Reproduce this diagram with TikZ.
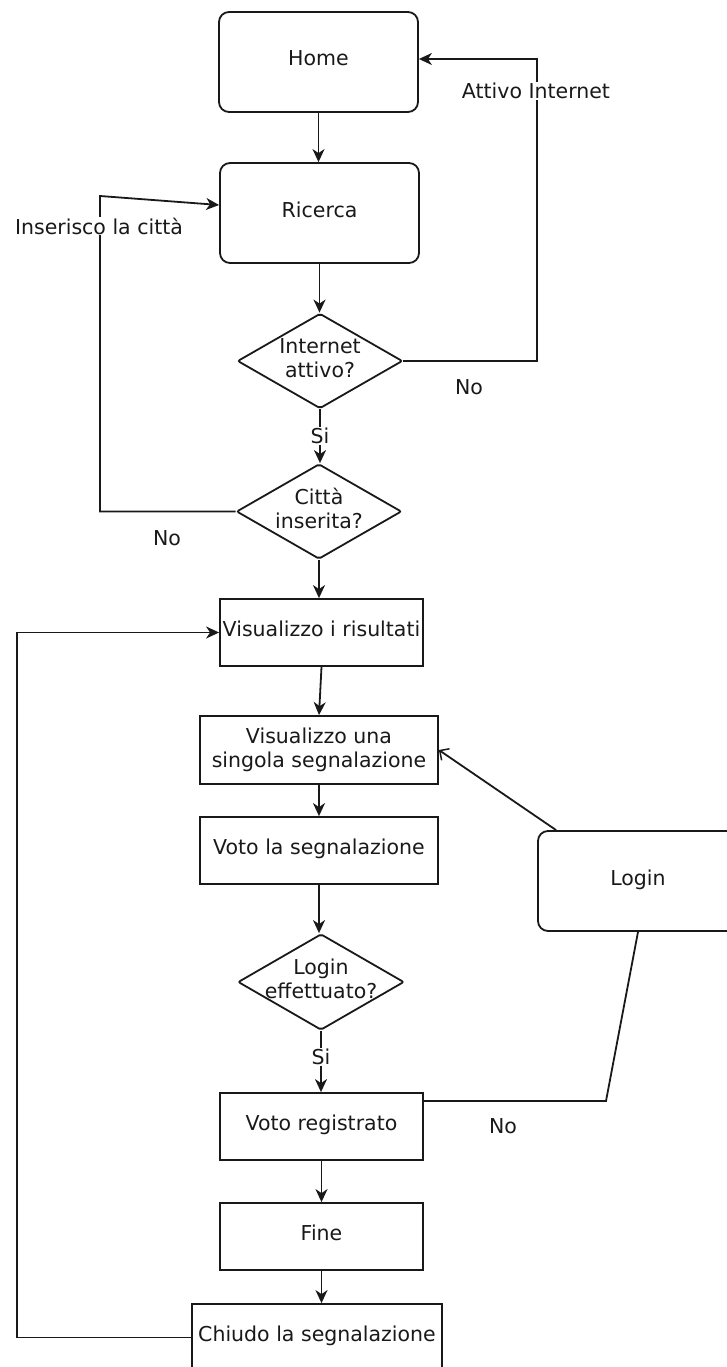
\documentclass[tikz,border=0pt]{standalone}
\usepackage{fontspec}
\setmainfont{DejaVu Sans}
\usetikzlibrary{shapes.geometric,arrows.meta,calc}

\tikzset{
  base/.style={draw=black!90, line width=1.8pt, inner sep=0pt, align=center,
    text=black!90, font=\fontsize{20.5}{24.5}\selectfont},
  oneline/.style={text height=15pt, text depth=7pt},
  roundbox/.style={base, oneline, rectangle, rounded corners=10pt, minimum width=199pt, minimum height=100pt},
  plainbox/.style={base, oneline, rectangle, minimum width=203pt, minimum height=67pt},
  widebox/.style={base, rectangle, minimum width=238pt, minimum height=68pt},
  decision/.style={base, diamond, rounded corners=2pt, minimum width=165pt, minimum height=95pt},
  flow/.style={line width=1.8pt, draw=black!90, -{Stealth[length=13pt,width=12pt,inset=4pt]}},
  plainline/.style={line width=1.8pt, draw=black!90},
  openflow/.style={line width=1.8pt, draw=black!90, -{Straight Barb[length=7pt,width=14pt,line width=1.5pt]}},
  tag/.style={fill=white, inner sep=1pt, text=black!90, font=\fontsize{20.5}{24.5}\selectfont},
  note/.style={inner sep=0pt, text=black!90, font=\fontsize{20.5}{24.5}\selectfont},
}

\begin{document}
\begin{tikzpicture}[x=1pt, y=-1pt]
  \useasboundingbox (0,0) rectangle (727,1367);
  \clip (0,0) rectangle (727,1367);

  % main column
  \node[roundbox] (home) at (318.5,62) {Home};
  \node[roundbox] (ricerca) at (319.5,213) {Ricerca};
  \node[decision, label={[note, align=center, yshift=3pt]center:Internet\\attivo?}] (internet) at (320,361) {};
  \node[decision, label={[note, align=center, yshift=3pt]center:Città\\inserita?}] (citta) at (319,511.5) {};
  \node[plainbox] (risultati) at (321.5,632.5) {Visualizzo i risultati};
  \node[widebox] (singola) at (319,750) {Visualizzo una\\singola segnalazione};
  \node[widebox, oneline, minimum height=67pt] (voto) at (319,850.5) {Voto la segnalazione};
  \node[decision, minimum width=166pt, minimum height=96pt,
        label={[note, align=center, yshift=3pt]center:Login\\effettuato?}] (loginq) at (321,982) {};
  \node[plainbox] (registrato) at (321.5,1126.5) {Voto registrato};
  \node[plainbox] (fine) at (321.5,1236.5) {Fine};
  \node[plainbox, minimum width=250pt] (chiudo) at (317,1337.5) {Chiudo la segnalazione};

  % side box
  \node[roundbox, minimum width=200pt] (login) at (638,881) {Login};

  % bend points of the side connectors
  \coordinate (internetR) at (537,361);
  \coordinate (internetTop) at (537,59);
  \coordinate (cittaL) at (100,511.5);
  \coordinate (cittaTop) at (100,196);
  \coordinate (noBend) at (606,1101);
  \coordinate (loopL) at (17,1337.5);

  % straight flow, drawn vertically from each lower edge
  \draw[flow] (home.south) -- (home.south |- ricerca.north);
  \draw[flow] (ricerca.south) -- (ricerca.south |- internet.north);
  \draw[flow] (internet.south) -- (internet.south |- citta.north);
  \draw[flow] (citta.south) -- (citta.south |- risultati.north);
  \draw[flow] (risultati.south) -- (singola.north);
  \draw[flow] (singola.south) -- (singola.south |- voto.north);
  \draw[flow] (voto.south) -- (voto.south |- loginq.north);
  \draw[flow] (loginq.south) -- (loginq.south |- registrato.north);
  \draw[flow] (registrato.south) -- (registrato.south |- fine.north);
  \draw[flow] (fine.south) -- (fine.south |- chiudo.north);

  % internet not active: back to Home
  \draw[flow] (internet.east) -- (internetR) -- (internetTop) -- (internetTop -| home.east);
  \node[tag] (lblAttivo) at (536,91) {Attivo Internet};
  \node[note] (lblNo1) at (469,387) {No};

  % city missing: back to Ricerca
  \draw[flow] (citta.west) -- (cittaL) -- (cittaTop) -- ([yshift=8pt]ricerca.west);
  \node[tag] (lblCitta) at (99,226) {Inserisco la città};
  \node[note] (lblNo2) at (167,538) {No};

  % yes labels
  \node[tag] (lblSi1) at (320,436) {Si};
  \node[tag] (lblSi2) at (321,1057) {Si};

  % login missing
  \draw[plainline] ([yshift=25.5pt]registrato.east) -- (noBend) -- (login.south);
  \node[note] (lblNo3) at (503,1126) {No};
  \draw[openflow] ([xshift=19pt]login.north west) -- (singola.east);

  % close report: back to results
  \draw[flow] (chiudo.west) -- (loopL) |- (risultati.west);
\end{tikzpicture}
\end{document}
